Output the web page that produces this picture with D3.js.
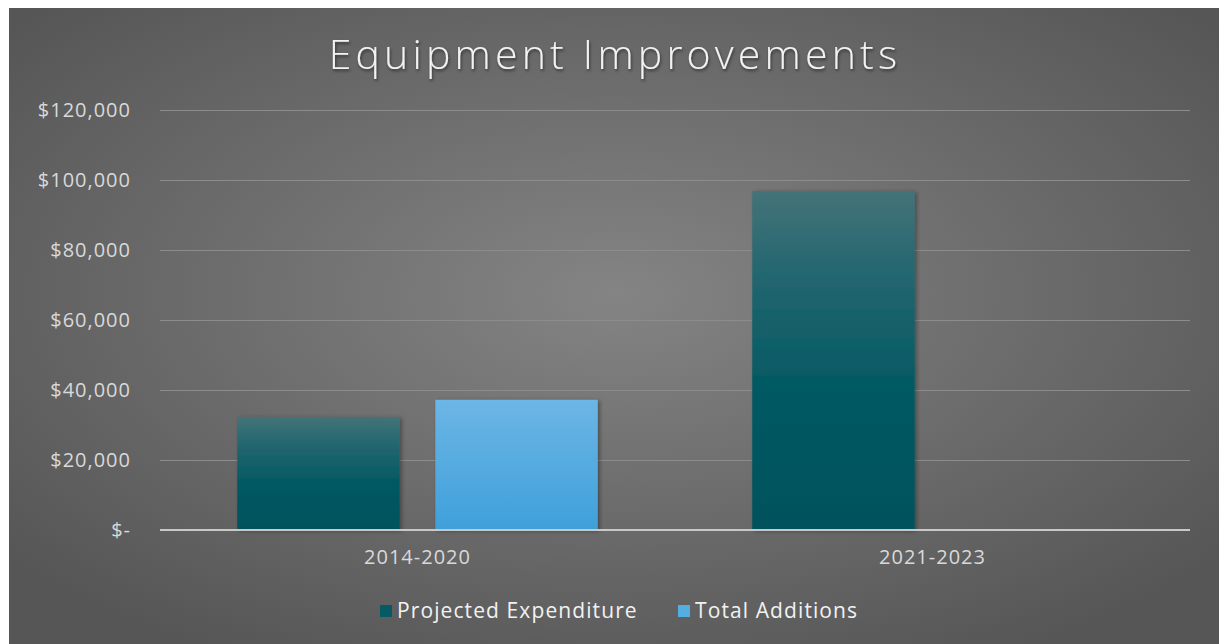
<!DOCTYPE html>
<html>
<head>
<meta charset="utf-8">
<script src="https://cdn.jsdelivr.net/npm/d3@7"></script>
<style>
  body { margin: 0; background: #fff; }
  svg { display: block; }
</style>
</head>
<body>
<svg id="chart" width="1219" height="644"></svg>
<script>
const categories = ["2014-2020", "2021-2023"];
const seriesNames = ["Projected Expenditure", "Total Additions"];
const projectedExpenditure = [32300, 96800];
const totalAdditions = [37200, 0];
const yTicks = [0, 20000, 40000, 60000, 80000, 100000, 120000];

const svg = d3.select('#chart');
const W = 1219, H = 644;
const margin = {top: 110, right: 29, bottom: 114, left: 160};
const innerW = W - margin.left - margin.right;
const innerH = H - margin.top - margin.bottom;
const font = '"Open Sans", "Noto Sans", sans-serif';

const defs = svg.append('defs');
const bg = defs.append('radialGradient').attr('id', 'bg')
  .attr('cx', '50%').attr('cy', '45%').attr('r', '65%');
bg.append('stop').attr('offset', '0%').attr('stop-color', '#848484');
bg.append('stop').attr('offset', '100%').attr('stop-color', '#565656');

const gPE = defs.append('linearGradient').attr('id', 'gPE').attr('x1', 0).attr('y1', 0).attr('x2', 0).attr('y2', 1);
gPE.append('stop').attr('offset', '0%').attr('stop-color', '#437378');
gPE.append('stop').attr('offset', '25%').attr('stop-color', '#236670');
gPE.append('stop').attr('offset', '55%').attr('stop-color', '#065a64');
gPE.append('stop').attr('offset', '100%').attr('stop-color', '#04525c');
const gTA = defs.append('linearGradient').attr('id', 'gTA').attr('x1', 0).attr('y1', 0).attr('x2', 0).attr('y2', 1);
gTA.append('stop').attr('offset', '0%').attr('stop-color', '#6cb6e5');
gTA.append('stop').attr('offset', '100%').attr('stop-color', '#3fa0da');

const shadow = defs.append('filter').attr('id', 'shadow').attr('x', '-10%').attr('y', '-10%').attr('width', '130%').attr('height', '130%');
shadow.append('feDropShadow').attr('dx', 2).attr('dy', 1).attr('stdDeviation', 2)
  .attr('flood-color', '#000').attr('flood-opacity', 0.35);

const titleShadow = defs.append('filter').attr('id', 'tshadow');
titleShadow.append('feDropShadow').attr('dx', 1).attr('dy', 2).attr('stdDeviation', 1.5)
  .attr('flood-color', '#000').attr('flood-opacity', 0.5);

svg.append('rect').attr('x', 9).attr('y', 8).attr('width', W - 9).attr('height', H - 8)
  .attr('fill', 'url(#bg)');

svg.append('text')
  .attr('x', 615).attr('y', 69)
  .attr('text-anchor', 'middle')
  .attr('fill', '#f2f2f2')
  .attr('filter', 'url(#tshadow)')
  .style('font-family', font)
  .style('font-weight', 300)
  .style('font-size', '41px')
  .style('letter-spacing', '4.2px')
  .text('Equipment Improvements');

const g = svg.append('g').attr('transform', `translate(${margin.left},${margin.top})`);

const x0 = d3.scaleBand().domain(categories).range([0, innerW]);
const x1 = d3.scaleBand().domain(seriesNames)
  .range([x0.bandwidth() * 0.15, x0.bandwidth() * 0.85]).paddingInner(0.18);
const y = d3.scaleLinear().domain([0, 120000]).range([innerH, 0]);
const color = d3.scaleOrdinal().domain(seriesNames).range(['url(#gPE)', 'url(#gTA)']);
const swatch = d3.scaleOrdinal().domain(seriesNames).range(['#065a64', '#55aee2']);

const fmt = v => v === 0 ? '$-' : '$' + d3.format(',')(v);

const yAxis = g.append('g')
  .call(d3.axisLeft(y).tickValues(yTicks).tickSize(-innerW).tickFormat(fmt).tickPadding(29));
yAxis.select('.domain').remove();
yAxis.selectAll('line').attr('stroke', '#8c8c8c').attr('stroke-width', 1.2)
  .attr('stroke-opacity', d => d === 0 ? 0 : 1);
yAxis.selectAll('text')
  .attr('fill', '#d9d9d9')
  .style('font-family', font)
  .style('font-size', '20px')
  .style('letter-spacing', '1px');

const data = categories.flatMap((c, i) => [
  {cat: c, name: seriesNames[0], value: projectedExpenditure[i]},
  {cat: c, name: seriesNames[1], value: totalAdditions[i]}
]).filter(d => d.value > 0);

g.selectAll('rect.bar').data(data).join('rect')
  .attr('class', 'bar')
  .attr('x', d => x0(d.cat) + x1(d.name))
  .attr('y', d => y(d.value))
  .attr('width', x1.bandwidth())
  .attr('height', d => y(0) - y(d.value))
  .attr('fill', d => color(d.name))
  .attr('filter', 'url(#shadow)');

g.append('line')
  .attr('x1', 0).attr('x2', innerW)
  .attr('y1', y(0)).attr('y2', y(0))
  .attr('stroke', '#c8c8c8').attr('stroke-width', 2);

const xAxis = g.append('g').attr('transform', `translate(0,${innerH})`)
  .call(d3.axisBottom(x0).tickSize(0).tickPadding(20));
xAxis.select('.domain').remove();
xAxis.selectAll('text')
  .attr('fill', '#d9d9d9')
  .style('font-family', font)
  .style('font-size', '20px')
  .style('letter-spacing', '1px');

const legend = svg.append('g').attr('transform', 'translate(380,611)');
const legendX = [0, 298];
const items = legend.selectAll('g').data(seriesNames).join('g')
  .attr('transform', (d, i) => `translate(${legendX[i]},0)`);
items.append('rect')
  .attr('x', 0).attr('y', -6).attr('width', 12).attr('height', 12)
  .attr('fill', d => swatch(d));
items.append('text')
  .attr('x', 17).attr('y', 0).attr('dy', '0.35em')
  .attr('fill', '#f2f2f2')
  .style('font-family', font)
  .style('font-size', '21px')
  .style('letter-spacing', '1.1px')
  .text(d => d);
</script>
</body>
</html>
